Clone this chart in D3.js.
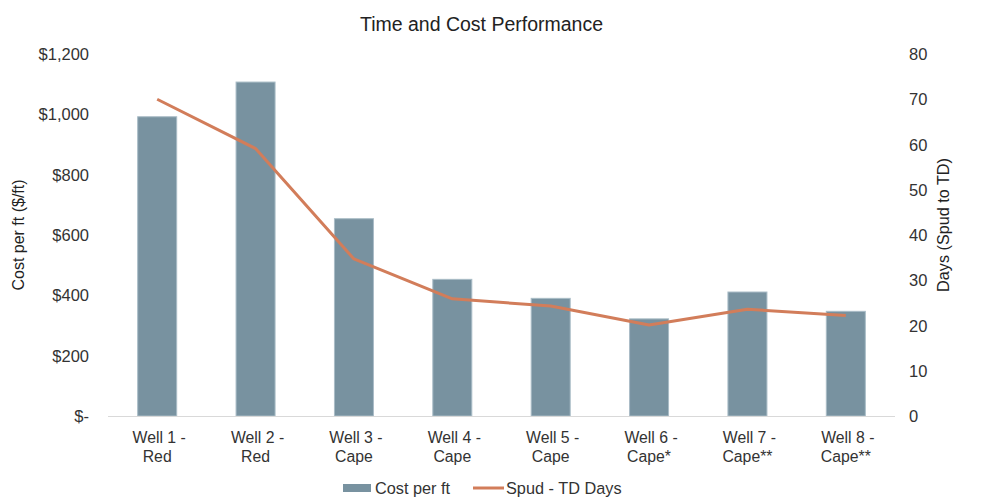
<!DOCTYPE html>
<html><head><meta charset="utf-8">
<script src="https://cdn.jsdelivr.net/npm/d3@7"></script>
<style>body{margin:0;background:#fff;} text{font-family:"Liberation Sans",Arial,sans-serif;}</style>
</head><body>
<svg id="c" width="1000" height="503"></svg>
<script>
const categories = [["Well 1 -","Red"],["Well 2 -","Red"],["Well 3 -","Cape"],["Well 4 -","Cape"],["Well 5 -","Cape"],["Well 6 -","Cape*"],["Well 7 -","Cape**"],["Well 8 -","Cape**"]];
const costPerFt = [992, 1107, 654, 453, 390, 322, 411, 347];
const spudDays = [70.0, 59.1, 34.7, 25.9, 24.3, 20.1, 23.6, 22.2];
const leftTicks = [0, 200, 400, 600, 800, 1000, 1200];
const rightTicks = [0, 10, 20, 30, 40, 50, 60, 70, 80];

(function(){
const svg = d3.select("#c");
const pL = 108, pR = 895, pT = 54, pB = 416;
const xc = d3.scaleBand().domain(d3.range(categories.length)).range([pL, pR]);
const yL = d3.scaleLinear().domain([0, 1200]).range([pB, pT]);
const yR = d3.scaleLinear().domain([0, 80]).range([pB, pT]);
const cx = i => xc(i) + xc.bandwidth()/2;

svg.append("text").attr("x", 481.5).attr("y", 31).attr("text-anchor", "middle").attr("font-size", 19.5).attr("fill", "#222").text("Time and Cost Performance");

// bars
svg.selectAll("rect.bar").data(costPerFt).enter().append("rect")
  .attr("x", (d,i) => cx(i) - 19.5)
  .attr("width", 39)
  .attr("y", d => yL(d)).attr("height", d => yL(0) - yL(d))
  .attr("fill", "#7892a0").attr("stroke", "#a9bcc6").attr("stroke-width", 1);

// baseline
svg.append("line").attr("x1", pL).attr("x2", pR).attr("y1", pB + 0.5).attr("y2", pB + 0.5).attr("stroke", "#d9d9d9").attr("stroke-width", 1);

// line
const line = d3.line().x((d,i) => cx(i)).y(d => yR(d));
svg.append("path").datum(spudDays).attr("d", line).attr("fill", "none").attr("stroke", "#d27d5a").attr("stroke-width", 3).attr("stroke-linejoin", "round");

// left axis
const fmtL = d => d === 0 ? "$-" : "$" + d3.format(",")(d);
svg.append("g").selectAll("text").data(leftTicks).enter().append("text")
  .attr("x", 89).attr("y", d => yL(d) + 6).attr("text-anchor", "end").attr("font-size", 16.5).attr("fill", "#333").text(fmtL);
// right axis
svg.append("g").selectAll("text").data(rightTicks).enter().append("text")
  .attr("x", 909).attr("y", d => yR(d) + 6).attr("text-anchor", "start").attr("font-size", 16.5).attr("fill", "#333").text(d => d);

// axis titles
svg.append("text").attr("transform", "translate(24,235) rotate(-90)").attr("text-anchor", "middle").attr("font-size", 16).attr("fill", "#222").text("Cost per ft ($/ft)");
svg.append("text").attr("transform", "translate(949,225) rotate(-90)").attr("text-anchor", "middle").attr("font-size", 16.2).attr("fill", "#222").text("Days (Spud to TD)");

// x labels
const xl = svg.append("g").selectAll("text").data(categories).enter().append("text")
  .attr("text-anchor", "middle").attr("font-size", 15.8).attr("fill", "#333");
xl.append("tspan").attr("x", (d,i) => cx(i) + 2).attr("y", 443).text(d => d[0]);
xl.append("tspan").attr("x", (d,i) => cx(i)).attr("y", 462).text(d => d[1]);

// legend
const lg = svg.append("g");
lg.append("rect").attr("x", 343).attr("y", 484).attr("width", 28).attr("height", 8).attr("fill", "#7892a0");
lg.append("text").attr("x", 375).attr("y", 494).attr("font-size", 16.3).attr("fill", "#333").text("Cost per ft");
lg.append("line").attr("x1", 473).attr("x2", 504).attr("y1", 488).attr("y2", 488).attr("stroke", "#d27d5a").attr("stroke-width", 3);
lg.append("text").attr("x", 506).attr("y", 494).attr("font-size", 16.3).attr("fill", "#333").text("Spud - TD Days");
})();
</script>
</body></html>
